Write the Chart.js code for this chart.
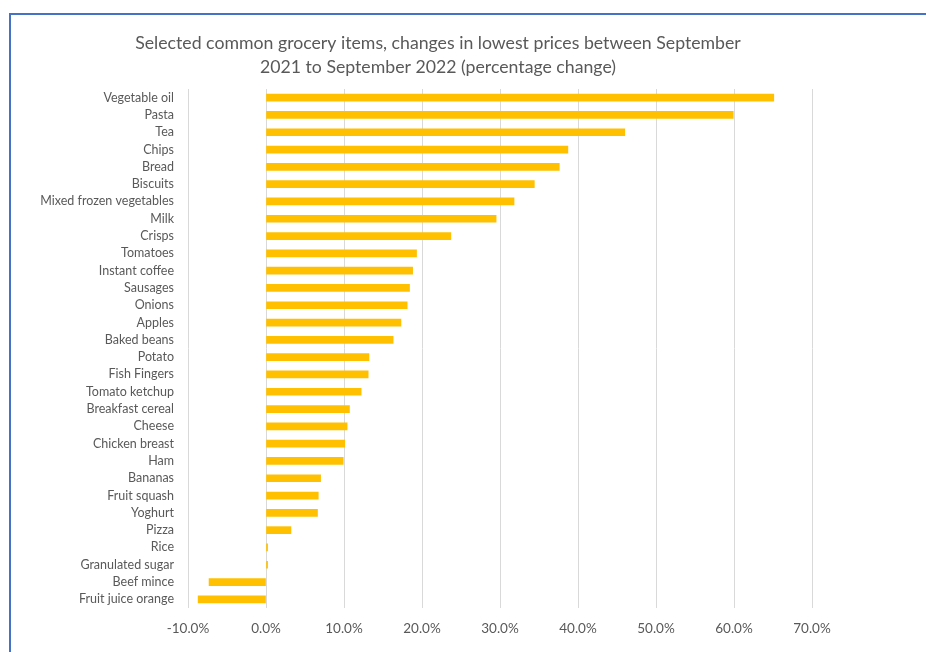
<!DOCTYPE html>
<html>
<head>
<meta charset="utf-8">
<script src="https://cdn.jsdelivr.net/npm/chart.js@4"></script>
<style>
  html, body { margin: 0; padding: 0; background: #ffffff; }
  #wrap { position: relative; width: 926px; height: 652px; overflow: hidden; }
  #frame { position: absolute; left: 9px; top: 13px; width: 940px; height: 660px;
           border-top: 2px solid #4472c4; border-left: 2px solid #4472c4; box-sizing: border-box; }
  canvas { position: absolute; left: 0; top: 0; }
</style>
</head>
<body>
<div id="wrap">
  <div id="frame"></div>
  <canvas id="chart" width="926" height="652"></canvas>
</div>
<script>
const titleLines = [
  'Selected common grocery items, changes in lowest prices between September',
  '2021 to September 2022 (percentage change)'
];

const items = [
  'Vegetable oil', 'Pasta', 'Tea', 'Chips', 'Bread', 'Biscuits',
  'Mixed frozen vegetables', 'Milk', 'Crisps', 'Tomatoes', 'Instant coffee',
  'Sausages', 'Onions', 'Apples', 'Baked beans', 'Potato', 'Fish Fingers',
  'Tomato ketchup', 'Breakfast cereal', 'Cheese', 'Chicken breast', 'Ham',
  'Bananas', 'Fruit squash', 'Yoghurt', 'Pizza', 'Rice', 'Granulated sugar',
  'Beef mince', 'Fruit juice orange'
];

const pctChange = [
  65.1, 59.9, 46.0, 38.7, 37.6, 34.4,
  31.8, 29.5, 23.7, 19.3, 18.8,
  18.4, 18.1, 17.3, 16.3, 13.2, 13.1,
  12.2, 10.7, 10.4, 10.1, 9.9,
  7.0, 6.7, 6.6, 3.2, 0.2, 0.2,
  -7.3, -8.7
];

const xMin = -10;
const xMax = 70;
const xStep = 10;

const textColor = '#595959';
const fontFamily = 'Lato, "Open Sans", sans-serif';

// title drawn centred at a fixed spot, as in the original
const titlePlugin = {
  id: 'fixedTitle',
  afterDraw(chart) {
    const ctx = chart.ctx;
    ctx.save();
    ctx.fillStyle = textColor;
    ctx.font = '17.7px ' + fontFamily;
    ctx.textAlign = 'center';
    ctx.textBaseline = 'middle';
    titleLines.forEach((line, i) => ctx.fillText(line, 438, 43 + i * 24));
    ctx.restore();
  }
};

new Chart(document.getElementById('chart').getContext('2d'), {
  type: 'bar',
  data: {
    labels: items,
    datasets: [{
      data: pctChange,
      backgroundColor: '#ffc000',
      borderWidth: 0,
      barThickness: 7
    }]
  },
  options: {
    indexAxis: 'y',
    responsive: false,
    animation: false,
    layout: { padding: { left: 20, right: 114, top: 89, bottom: 0 } },
    plugins: {
      legend: { display: false },
      tooltip: { enabled: false },
      title: { display: false }
    },
    scales: {
      x: {
        min: xMin,
        max: xMax,
        ticks: {
          stepSize: xStep,
          color: textColor,
          font: { family: fontFamily, size: 13.5 },
          padding: 13,
          callback: v => v.toFixed(1) + '%'
        },
        grid: { color: '#d9d9d9', drawTicks: false },
        border: { display: false },
        afterFit: s => { s.height = 44; }
      },
      y: {
        ticks: {
          color: textColor,
          font: { family: fontFamily, size: 12.5 },
          padding: 14,
          autoSkip: false
        },
        grid: { display: false, drawTicks: false },
        border: { display: false },
        afterFit: s => { s.width = 168; }
      }
    }
  },
  plugins: [titlePlugin]
});
</script>
</body>
</html>
